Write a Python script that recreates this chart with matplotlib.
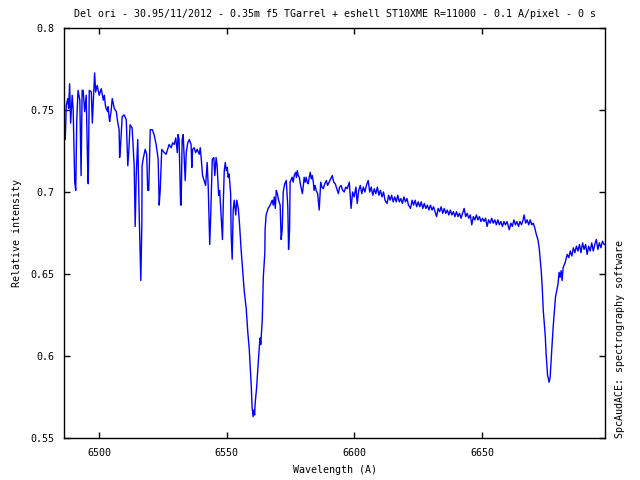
import matplotlib
matplotlib.use("Agg")
import matplotlib.pyplot as plt

title = "Del ori - 30.95/11/2012 - 0.35m f5 TGarrel + eshell ST10XME R=11000 - 0.1 A/pixel - 0 s"
xlabel = "Wavelength (A)"
ylabel = "Relative intensity"
credit = "SpcAudACE: spectrography software"

xticks = [6500, 6550, 6600, 6650]
yticks = [0.55, 0.6, 0.65, 0.7, 0.75, 0.8]
ytick_labels = ["0.55", "0.6", "0.65", "0.7", "0.75", "0.8"]

# blue part with metallic lines
wl_blue = [
    6486.1, 6486.3, 6486.7, 6487.1, 6487.7, 6488.0, 6488.4, 6488.8, 6489.4, 6489.8,
    6490.4, 6490.8, 6491.2, 6491.7, 6492.4, 6492.8, 6492.9, 6493.3, 6493.7, 6494.3,
    6494.9, 6495.5, 6495.7, 6496.1, 6496.9, 6497.3, 6498.2, 6498.6, 6499.2, 6500.0,
    6500.8, 6501.6, 6502.0, 6502.4, 6502.7, 6503.3, 6503.5, 6503.9, 6504.1, 6504.7,
    6505.1, 6505.9, 6506.3, 6506.7, 6507.2, 6507.8, 6508.0, 6508.4, 6509.0, 6509.8,
    6510.6, 6511.2, 6511.6, 6512.1, 6512.9, 6513.7, 6514.1, 6514.5, 6515.1, 6515.7,
    6516.3, 6516.7, 6516.8, 6517.2, 6518.0, 6518.6, 6519.0, 6519.4, 6520.0, 6520.8,
    6521.5, 6522.3, 6523.1, 6523.5, 6523.9, 6524.5, 6525.5, 6526.2, 6527.0, 6527.4,
]
int_blue = [
    0.758, 0.739, 0.732, 0.753, 0.757, 0.751, 0.766, 0.742, 0.759, 0.750,
    0.706, 0.701, 0.744, 0.762, 0.756, 0.716, 0.710, 0.762, 0.762, 0.749,
    0.759, 0.713, 0.705, 0.762, 0.761, 0.742, 0.7726, 0.761, 0.765, 0.759,
    0.763, 0.756, 0.759, 0.753, 0.751, 0.749, 0.752, 0.745, 0.743, 0.750,
    0.757, 0.751, 0.750, 0.749, 0.743, 0.738, 0.721, 0.729, 0.746, 0.747,
    0.744, 0.716, 0.725, 0.741, 0.739, 0.716, 0.679, 0.710, 0.732, 0.684,
    0.646, 0.680, 0.716, 0.720, 0.726, 0.723, 0.701, 0.701, 0.738, 0.738,
    0.735, 0.729, 0.720, 0.692, 0.701, 0.726, 0.724, 0.723, 0.727, 0.729,
]

# H-alpha region
wl_ha = [
    6528.2, 6528.8, 6529.4, 6530.0, 6530.6, 6530.9, 6531.3, 6531.9, 6532.1, 6532.5,
    6532.9, 6533.5, 6533.7, 6534.1, 6534.7, 6535.3, 6536.0, 6536.3, 6536.6, 6537.2,
    6537.8, 6538.4, 6539.2, 6539.6, 6540.0, 6540.5, 6541.1, 6541.7, 6542.3, 6542.7,
    6543.3, 6543.7, 6544.3, 6544.9, 6545.3, 6545.8, 6546.2, 6546.8, 6547.2, 6547.8,
    6548.3, 6548.6, 6549.0, 6549.4, 6549.8, 6550.2, 6550.5, 6550.9, 6551.5, 6551.7,
    6552.1, 6552.5, 6552.9, 6553.5, 6553.9, 6554.5, 6555.0, 6555.6, 6556.8, 6557.6,
    6558.2, 6558.8, 6559.2, 6559.6, 6559.9, 6560.3, 6560.6, 6560.9, 6561.1, 6561.7,
    6562.1, 6562.7, 6562.9, 6563.1, 6563.3, 6563.5, 6563.9, 6564.3, 6564.9, 6565.0,
    6565.4, 6566.2, 6567.0, 6567.8, 6568.2, 6568.6, 6569.0, 6569.4, 6569.8, 6570.3,
    6570.9, 6571.3, 6571.7, 6572.1, 6572.7, 6573.3, 6573.9, 6574.2, 6574.6, 6574.8,
]
int_ha = [
    0.727, 0.730, 0.729, 0.733, 0.724, 0.735, 0.732, 0.692, 0.692, 0.732,
    0.735, 0.713, 0.707, 0.724, 0.730, 0.732, 0.729, 0.715, 0.726, 0.727,
    0.724, 0.726, 0.723, 0.727, 0.720, 0.710, 0.707, 0.704, 0.718, 0.704,
    0.668, 0.686, 0.720, 0.721, 0.710, 0.721, 0.716, 0.698, 0.701, 0.684,
    0.671, 0.692, 0.713, 0.718, 0.713, 0.715, 0.709, 0.711, 0.699, 0.674,
    0.659, 0.689, 0.695, 0.686, 0.695, 0.690, 0.680, 0.665, 0.640, 0.629,
    0.615, 0.604, 0.593, 0.581, 0.569, 0.563, 0.567, 0.564, 0.571, 0.581,
    0.591, 0.604, 0.609, 0.611, 0.607, 0.612, 0.622, 0.648, 0.663, 0.677,
    0.686, 0.690, 0.692, 0.695, 0.692, 0.697, 0.690, 0.701, 0.699, 0.695,
    0.692, 0.671, 0.677, 0.700, 0.705, 0.707, 0.691, 0.665, 0.677, 0.706,
]

# continuum after H-alpha
wl_mid1 = [
    6575.6, 6576.0, 6576.4, 6577.0, 6577.3, 6577.6, 6578.0, 6578.4, 6578.8, 6579.2,
    6579.6, 6580.0, 6580.3, 6580.7, 6581.1, 6581.5, 6581.9, 6582.3, 6582.7, 6583.1,
    6583.5, 6583.9, 6584.2, 6584.6, 6585.0, 6585.6, 6586.2, 6586.8, 6587.3, 6587.8,
    6588.4, 6589.0, 6589.5, 6590.1, 6590.7, 6591.3, 6591.9, 6592.5, 6593.1, 6593.7,
    6594.2, 6594.8, 6595.4, 6596.0, 6596.6, 6597.2, 6597.6,
]
int_mid1 = [
    0.709, 0.706, 0.710, 0.712, 0.709, 0.713, 0.710, 0.709, 0.705, 0.702,
    0.699, 0.704, 0.709, 0.706, 0.709, 0.706, 0.705, 0.709, 0.712, 0.708,
    0.710, 0.706, 0.701, 0.704, 0.701, 0.699, 0.689, 0.706, 0.703, 0.702,
    0.705, 0.707, 0.704, 0.706, 0.708, 0.710, 0.706, 0.705, 0.702, 0.699,
    0.703, 0.704, 0.701, 0.700, 0.703, 0.702, 0.704,
]

wl_mid2 = [
    6598.0, 6598.7, 6599.3, 6599.9, 6600.6, 6601.1, 6601.7, 6602.3, 6602.9, 6603.5,
    6604.1, 6604.7, 6605.4, 6606.0, 6606.6, 6607.2, 6607.8, 6608.4, 6609.0, 6609.6,
    6610.2, 6610.8, 6611.4, 6612.0, 6612.8, 6613.4, 6614.0, 6614.6, 6615.2, 6615.8,
    6616.4, 6617.0, 6617.6, 6618.2, 6618.8, 6619.4, 6620.0, 6620.6, 6621.2, 6622.0,
    6622.6, 6623.2, 6623.8, 6624.4, 6625.0, 6625.6, 6626.2, 6626.8, 6627.4, 6628.0,
    6628.6, 6629.2, 6629.8, 6630.4, 6631.0, 6631.6, 6632.2, 6632.8, 6633.4, 6634.0,
    6634.6, 6635.2, 6635.8, 6636.4, 6637.0, 6637.6, 6638.2, 6638.8, 6639.4, 6640.0,
    6640.6, 6641.2, 6641.8, 6642.4, 6643.0, 6643.6, 6644.2, 6644.8, 6645.4, 6646.0,
    6646.6, 6647.2, 6647.8, 6648.4, 6649.0, 6649.6, 6650.2, 6650.8, 6651.4, 6652.0,
    6652.6, 6653.2, 6653.8, 6654.4, 6655.0, 6655.6, 6656.2, 6656.8, 6657.4, 6658.0,
    6658.6, 6659.2, 6659.8, 6660.7, 6661.3, 6661.9, 6662.5, 6663.1, 6663.7, 6664.3,
    6664.9, 6665.5, 6666.1, 6666.5, 6667.1, 6667.7, 6668.3, 6668.9, 6669.5, 6670.1,
]
int_mid2 = [
    0.706, 0.690, 0.700, 0.697, 0.703, 0.693, 0.701, 0.704, 0.699, 0.703,
    0.700, 0.704, 0.707, 0.700, 0.703, 0.698, 0.702, 0.699, 0.703, 0.698,
    0.701, 0.697, 0.700, 0.695, 0.693, 0.698, 0.695, 0.698, 0.694, 0.697,
    0.694, 0.698, 0.694, 0.696, 0.693, 0.697, 0.694, 0.696, 0.692, 0.690,
    0.695, 0.692, 0.695, 0.691, 0.694, 0.691, 0.694, 0.690, 0.693, 0.690,
    0.692, 0.689, 0.692, 0.689, 0.691, 0.688, 0.685, 0.690, 0.688, 0.691,
    0.687, 0.690, 0.687, 0.689, 0.686, 0.689, 0.686, 0.688, 0.685, 0.688,
    0.685, 0.687, 0.684, 0.687, 0.690, 0.685, 0.687, 0.684, 0.686, 0.680,
    0.685, 0.683, 0.686, 0.683, 0.685, 0.682, 0.684, 0.682, 0.684, 0.679,
    0.683, 0.681, 0.684, 0.681, 0.683, 0.680, 0.683, 0.680, 0.682, 0.679,
    0.682, 0.680, 0.682, 0.677, 0.681, 0.679, 0.683, 0.680, 0.682, 0.679,
    0.682, 0.680, 0.683, 0.686, 0.681, 0.683, 0.680, 0.683, 0.680, 0.681,
]

# He I 6678 line and red end
wl_red = [
    6670.7, 6671.3, 6671.9, 6672.4, 6672.8, 6673.2, 6673.6, 6674.0, 6674.4, 6674.8,
    6675.1, 6675.5, 6675.7, 6675.9, 6676.3, 6676.7, 6677.1, 6677.5, 6677.9, 6678.4,
    6678.8, 6679.3, 6679.8, 6680.2, 6680.6, 6681.0, 6681.4, 6681.8,
    6682.6, 6683.4, 6684.0, 6684.6, 6685.2, 6685.8, 6686.4, 6687.0, 6687.6, 6688.2,
    6688.8, 6689.4, 6690.0, 6690.6, 6691.2, 6691.8, 6692.4, 6693.0, 6693.6, 6694.2,
    6694.8, 6695.4, 6696.0, 6696.6, 6697.2, 6697.9,
]
int_red = [
    0.678, 0.674, 0.671, 0.666, 0.659, 0.652, 0.642, 0.628, 0.620, 0.612,
    0.602, 0.593, 0.588, 0.587, 0.584, 0.587, 0.598, 0.608, 0.618, 0.628,
    0.636, 0.640, 0.644, 0.651, 0.648, 0.652, 0.646, 0.654,
    0.657, 0.662, 0.660, 0.664, 0.661, 0.666, 0.663, 0.667, 0.664, 0.668,
    0.663, 0.669, 0.665, 0.668, 0.662, 0.667, 0.664, 0.669, 0.664, 0.668,
    0.671, 0.665, 0.669, 0.666, 0.670, 0.668,
]

wavelength = wl_blue + wl_ha + wl_mid1 + wl_mid2 + wl_red
intensity = int_blue + int_ha + int_mid1 + int_mid2 + int_red

font = "DejaVu Sans Mono"
fs = 7.2

fig = plt.figure(figsize=(6.4, 4.8), dpi=100)
ax = fig.add_axes([64 / 640, 42 / 480, 541 / 640, 410 / 480])
ax.plot(wavelength, intensity, color="#0000ff", linewidth=1.0)

ax.set_xlim(6486.2, 6698.2)
ax.set_ylim(0.55, 0.8)
ax.set_xticks(xticks)
ax.set_xticklabels([str(t) for t in xticks], fontfamily=font, fontsize=fs)
ax.set_yticks(yticks)
ax.set_yticklabels(ytick_labels, fontfamily=font, fontsize=fs)
ax.tick_params(direction="in", length=4, width=1, top=True, right=True, pad=7, colors="black")
for s in ax.spines.values():
    s.set_linewidth(1.0)
    s.set_color("black")

fig.text(335 / 640, 1 - 14 / 480, title, ha="center", va="center", fontfamily=font, fontsize=fs)
fig.text(335 / 640, 1 - 470 / 480, xlabel, ha="center", va="center", fontfamily=font, fontsize=fs)
fig.text(17 / 640, 1 - 233 / 480, ylabel, ha="center", va="center", rotation=90, fontfamily=font, fontsize=fs)
fig.text(620 / 640, 42 / 480, credit, ha="center", va="bottom", rotation=90, fontfamily=font, fontsize=fs)

fig.savefig("out.png", dpi=100)
